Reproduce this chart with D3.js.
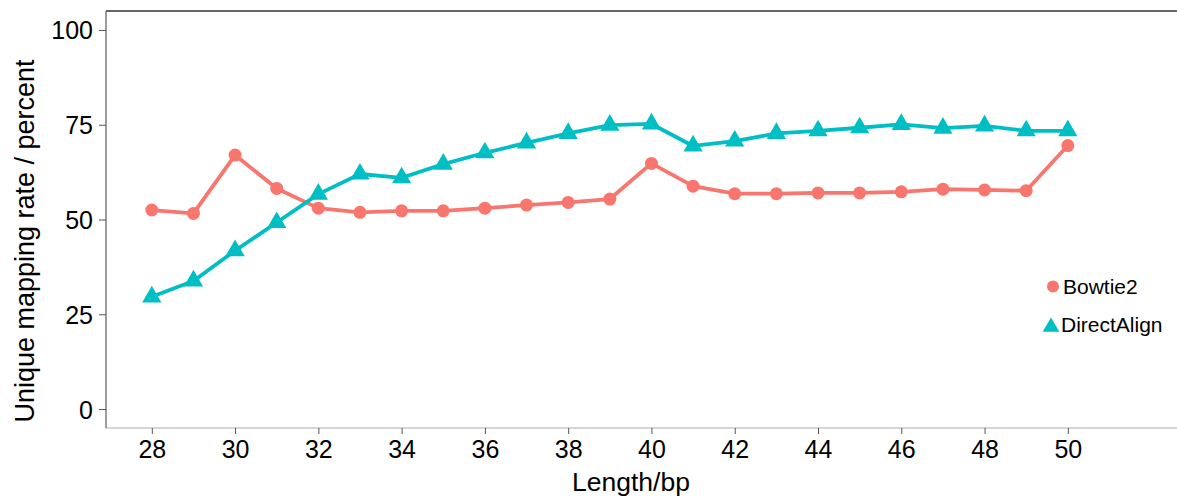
<!DOCTYPE html>
<html lang="en">
<head>
  <meta charset="UTF-8">
  <title>Unique mapping rate</title>
  <script src="https://d3js.org/d3.v7.min.js"></script>
  <style>
    body { margin: 0; background: #fff; }
    text { font-family: "Liberation Sans", Arial, sans-serif; fill: #000; }
  </style>
</head>
<body>
  <svg width="1177" height="499"></svg>
<script>
  const lengths = [28, 29, 30, 31, 32, 33, 34, 35, 36, 37, 38, 39, 40, 41, 42, 43, 44, 45, 46, 47, 48, 49, 50];
  const bowtie2 = [52.5, 51.6, 67.0, 58.2, 53.0, 51.9, 52.3, 52.3, 53.0, 53.8, 54.5, 55.4, 64.8, 58.8, 56.8, 56.8, 57.0, 57.0, 57.3, 58.0, 57.8, 57.6, 69.5];
  const directAlign = [29.6, 33.8, 41.8, 49.2, 56.7, 62.0, 61.0, 64.6, 67.6, 70.2, 72.7, 74.9, 75.2, 69.4, 70.7, 72.7, 73.4, 74.2, 75.1, 74.1, 74.7, 73.4, 73.4];
  const xTicks = [28, 30, 32, 34, 36, 38, 40, 42, 44, 46, 48, 50];
  const yTicks = [0, 25, 50, 75, 100];

  const series = [
    { name: 'Bowtie2', values: bowtie2, color: '#F8766D', shape: 'circle' },
    { name: 'DirectAlign', values: directAlign, color: '#00BFC4', shape: 'triangle' }
  ];

  const svg = d3.select('svg');
  const plotLeft = 106, plotRight = 1177, plotTop = 11, plotBottom = 428;

  const x = d3.scaleLinear().domain([26.9, 52.55]).range([plotLeft, 1174]);
  const y = d3.scaleLinear().domain([-5, 105]).range([plotBottom, plotTop]);

  // frame: dark top line, grey bottom line, dark left line
  svg.append('line').attr('x1', plotLeft).attr('x2', plotRight).attr('y1', plotTop).attr('y2', plotTop)
    .attr('stroke', '#333').attr('stroke-width', 1.3);
  svg.append('line').attr('x1', plotLeft).attr('x2', plotRight).attr('y1', plotBottom).attr('y2', plotBottom)
    .attr('stroke', '#c8c8c8').attr('stroke-width', 1.5);
  svg.append('line').attr('x1', plotLeft).attr('x2', plotLeft).attr('y1', plotTop).attr('y2', plotBottom)
    .attr('stroke', '#666').attr('stroke-width', 1.3);

  // y axis
  const yAxis = svg.append('g')
    .attr('transform', `translate(${plotLeft},0)`)
    .call(d3.axisLeft(y).tickValues(yTicks).tickSize(7).tickPadding(6));
  yAxis.select('.domain').remove();
  yAxis.selectAll('.tick line').attr('stroke', '#555');
  yAxis.selectAll('.tick text').attr('font-size', '25px').attr('dy', '0.36em')
    .style('font-family', '"Liberation Sans", Arial, sans-serif');

  // x axis
  const xAxis = svg.append('g')
    .attr('transform', `translate(0,${plotBottom})`)
    .call(d3.axisBottom(x).tickValues(xTicks).tickSize(6).tickPadding(6));
  xAxis.select('.domain').remove();
  xAxis.selectAll('.tick line').attr('stroke', '#555');
  xAxis.selectAll('.tick text').attr('font-size', '25px').attr('dy', '0.71em')
    .style('font-family', '"Liberation Sans", Arial, sans-serif');

  // axis titles
  svg.append('text')
    .attr('x', 631).attr('y', 491)
    .attr('text-anchor', 'middle')
    .attr('font-size', '26.5px')
    .text('Length/bp');

  svg.append('text')
    .attr('transform', 'translate(34,241) rotate(-90)')
    .attr('text-anchor', 'middle')
    .attr('font-size', '27px')
    .text('Unique mapping rate / percent');

  // lines + markers
  const line = d3.line().x((d, i) => x(lengths[i])).y(d => y(d));
  const tri = d3.symbol().type(d3.symbolTriangle).size(160);

  series.forEach(s => {
    svg.append('path')
      .datum(s.values)
      .attr('d', line)
      .attr('fill', 'none')
      .attr('stroke', s.color)
      .attr('stroke-width', 3.8)
      .attr('stroke-linejoin', 'round');

    const g = svg.append('g');
    if (s.shape === 'circle') {
      g.selectAll('circle').data(s.values).join('circle')
        .attr('cx', (d, i) => x(lengths[i]))
        .attr('cy', d => y(d))
        .attr('r', 6.5)
        .attr('fill', s.color);
    } else {
      g.selectAll('path').data(s.values).join('path')
        .attr('d', tri)
        .attr('transform', (d, i) => `translate(${x(lengths[i])},${y(d)})`)
        .attr('fill', s.color);
    }
  });

  // legend
  const legend = svg.append('g');
  legend.append('circle').attr('cx', 1053).attr('cy', 286.5).attr('r', 6).attr('fill', series[0].color);
  legend.append('text').attr('x', 1063).attr('y', 293.5).attr('font-size', '21px').text(series[0].name);
  legend.append('path').attr('d', d3.symbol().type(d3.symbolTriangle).size(120))
    .attr('transform', 'translate(1051,327)').attr('fill', series[1].color);
  legend.append('text').attr('x', 1061).attr('y', 331.5).attr('font-size', '21px').text(series[1].name);
</script>
</body>
</html>
